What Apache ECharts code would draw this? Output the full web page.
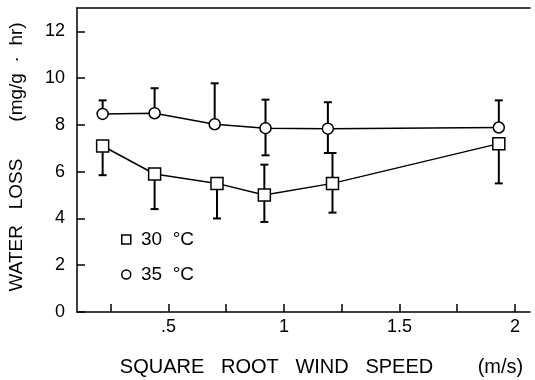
<!DOCTYPE html>
<html>
<head>
<meta charset="utf-8">
<script src="https://cdn.jsdelivr.net/npm/echarts@6/dist/echarts.min.js"></script>
<style>
  html, body { margin: 0; padding: 0; background: #fff; }
  #chart { width: 535px; height: 380px; }
</style>
</head>
<body>
<div id="chart"></div>
<script>
// Square root of wind speed (m/s) at each measurement
var windSqrt30 = [0.215, 0.44, 0.71, 0.915, 1.21, 1.93];
var windSqrt35 = [0.215, 0.44, 0.70, 0.92, 1.19, 1.93];

// Mean water loss (mg/g·hr)
var loss30 = [7.1, 5.9, 5.5, 5.0, 5.5, 7.2];
var loss35 = [8.47, 8.5, 8.03, 7.86, 7.84, 7.89];

// One-sided error bar ends (null where no bar is drawn)
var upper30 = [null, null, null, 6.3, 6.8, null];
var lower30 = [5.85, 4.4, 4.0, 3.85, 4.25, 5.5];
var upper35 = [9.05, 9.57, 9.78, 9.08, 8.97, 9.05];
var lower35 = [null, null, null, 6.7, 6.8, null];

// Tick positions and labels
var xTicks = [0.25, 0.5, 0.75, 1, 1.25, 1.5, 1.75, 2];
var xLabels = [0.5, 1, 1.5, 2];
var yTicks = [0, 2, 4, 6, 8, 10, 12];

var FONT = '"Liberation Sans", Arial, Helvetica, sans-serif';
var INK = '#000';

function pairs(xs, ys) {
  return xs.map(function (x, i) { return [x, ys[i]]; });
}

function errRows(xs, ys, hi, lo) {
  return xs.map(function (x, i) { return [x, ys[i], hi[i], lo[i]]; });
}

// Vertical whisker with a flat cap at each defined end
function renderErr(params, api) {
  var x = api.value(0), y = api.value(1);
  var hi = api.value(2), lo = api.value(3);
  var c = api.coord([x, y]);
  var cap = 4;
  var kids = [];
  var style = { stroke: INK, lineWidth: 2 };
  [hi, lo].forEach(function (end) {
    if (end === null || end === undefined || isNaN(end)) return;
    var e = api.coord([x, end]);
    kids.push({ type: 'line', shape: { x1: c[0], y1: c[1], x2: e[0], y2: e[1] }, style: style });
    kids.push({ type: 'line', shape: { x1: e[0] - cap, y1: e[1], x2: e[0] + cap, y2: e[1] }, style: style });
  });
  return { type: 'group', children: kids };
}

var chart = echarts.init(document.getElementById('chart'), null, { renderer: 'canvas' });

chart.setOption({
  backgroundColor: '#fff',
  animation: false,
  textStyle: { fontFamily: FONT, color: INK },
  grid: { left: 77, right: 5, top: 8, bottom: 68, outerBoundsMode: 'none', containLabel: false },
  legend: {
    orient: 'vertical',
    left: 116,
    top: 225,
    itemGap: 16,
    itemWidth: 9,
    itemHeight: 9,
    textStyle: { fontFamily: FONT, fontSize: 19, color: INK },
    formatter: function (name) { return ' ' + name.replace(' ', '  '); },
    data: [
      { name: '30 °C', icon: 'rect', itemStyle: { color: '#fff', borderColor: INK, borderWidth: 1.5 } },
      { name: '35 °C', icon: 'circle', itemStyle: { color: '#fff', borderColor: INK, borderWidth: 1.5 } }
    ]
  },
  xAxis: [{
    type: 'value',
    min: 0.104,
    max: 2.065,
    name: 'SQUARE   ROOT   WIND   SPEED        (m/s)',
    nameLocation: 'middle',
    nameGap: 45,
    nameTextStyle: { fontFamily: FONT, fontSize: 20, color: INK, padding: [0, 0, 0, 36] },
    splitLine: { show: false },
    axisLine: { show: true, lineStyle: { color: INK, width: 1.5 } },
    axisTick: { show: true, inside: true, length: 8, customValues: xTicks, lineStyle: { color: INK, width: 1.5 } },
    axisLabel: {
      customValues: xLabels,
      margin: 6,
      fontFamily: FONT, fontSize: 18, color: INK,
      formatter: function (v) { return v === 0.5 ? '.5' : String(v); }
    }
  }, {
    // top frame line
    type: 'value',
    position: 'top',
    min: 0.104,
    max: 2.065,
    splitLine: { show: false },
    axisLine: { show: true, lineStyle: { color: INK, width: 1.5 } },
    axisTick: { show: false },
    axisLabel: { show: false }
  }],
  yAxis: {
    type: 'value',
    min: 0,
    max: 13,
    name: 'WATER   LOSS       (mg/g  ·  hr)',
    nameLocation: 'middle',
    nameGap: 51,
    nameTextStyle: { fontFamily: FONT, fontSize: 19, color: INK, padding: [0, 0, 0, 6] },
    splitLine: { show: false },
    axisLine: { show: true, lineStyle: { color: INK, width: 1.5 } },
    axisTick: { show: true, inside: true, length: 8, customValues: yTicks, lineStyle: { color: INK, width: 1.5 } },
    axisLabel: { customValues: yTicks, margin: 12, fontFamily: FONT, fontSize: 18, color: INK }
  },
  series: [
    {
      type: 'custom',
      name: 'err30',
      renderItem: renderErr,
      data: errRows(windSqrt30, loss30, upper30, lower30),
      encode: { x: 0, y: 1 },
      z: 1,
      silent: true
    },
    {
      type: 'custom',
      name: 'err35',
      renderItem: renderErr,
      data: errRows(windSqrt35, loss35, upper35, lower35),
      encode: { x: 0, y: 1 },
      z: 1,
      silent: true
    },
    {
      type: 'line',
      name: '30 °C',
      data: pairs(windSqrt30, loss30),
      symbol: 'rect',
      symbolSize: 12,
      showAllSymbol: true,
      lineStyle: { color: INK, width: 1.5 },
      itemStyle: { color: '#fff', borderColor: INK, borderWidth: 1.5 },
      z: 3
    },
    {
      type: 'line',
      name: '35 °C',
      data: pairs(windSqrt35, loss35),
      symbol: 'circle',
      symbolSize: 11,
      showAllSymbol: true,
      lineStyle: { color: INK, width: 1.5 },
      itemStyle: { color: '#fff', borderColor: INK, borderWidth: 1.5 },
      z: 3
    }
  ]
});
</script>
</body>
</html>
